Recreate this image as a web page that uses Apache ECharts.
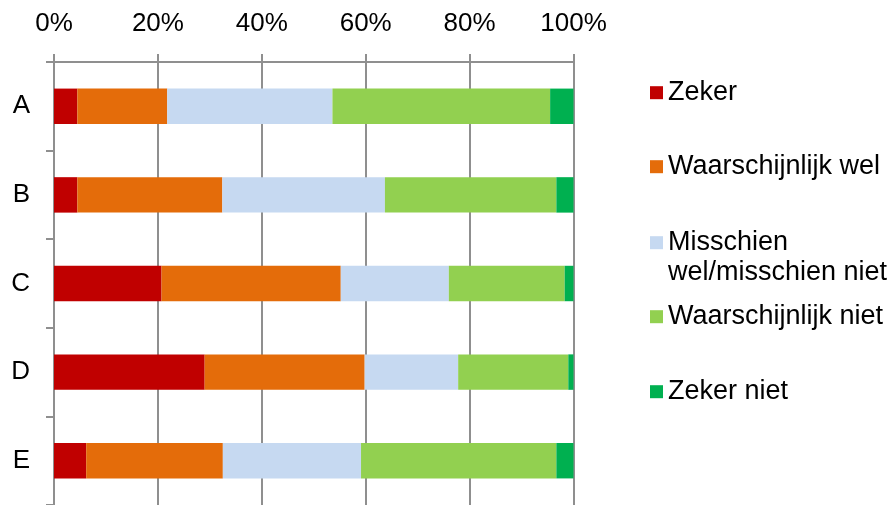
<!DOCTYPE html>
<html>
<head>
<meta charset="utf-8">
<script src="https://cdn.jsdelivr.net/npm/echarts@6/dist/echarts.min.js"></script>
<style>html,body{margin:0;padding:0;background:#fff}#c{width:889px;height:505px}</style>
</head>
<body>
<div id="c"></div>
<script>
var categories = ['A', 'B', 'C', 'D', 'E'];
var seriesNames = ['Zeker', 'Waarschijnlijk wel', 'Misschien wel/misschien niet', 'Waarschijnlijk niet', 'Zeker niet'];
var zeker = [4.5, 4.5, 20.7, 29.0, 6.2];
var waarschijnlijkWel = [17.3, 27.9, 34.5, 30.8, 26.3];
var misschien = [31.8, 31.3, 20.8, 18.0, 26.6];
var waarschijnlijkNiet = [41.9, 33.0, 22.3, 21.2, 37.6];
var zekerNiet = [4.5, 3.3, 1.7, 1.0, 3.3];
var tickLabels = ['0%', '20%', '40%', '60%', '80%', '100%'];

var colors = ['#C00000', '#E46C0A', '#C6D9F1', '#92D050', '#00B050'];
var values = [zeker, waarschijnlijkWel, misschien, waarschijnlijkNiet, zekerNiet];
var FONT = '"Liberation Sans", Arial, sans-serif';
var axisColor = '#8f8f8f';

var legendCenters = [92.7, 166.7, 242.7, 316.7, 391.7];
var legends = seriesNames.map(function (name, i) {
  var multi = (i === 2);
  return {
    data: [name],
    orient: 'vertical',
    left: 650,
    top: multi ? legendCenters[i] - 45 : legendCenters[i] - 15,
    padding: 0,
    icon: 'rect',
    itemWidth: 13,
    itemHeight: 13,
    selectedMode: false,
    formatter: multi ? function () { return ' \nMisschien\nwel/misschien niet'; } : undefined,
    textStyle: {
      fontFamily: FONT,
      fontSize: 27,
      color: '#000',
      lineHeight: 30
    }
  };
});

var series = seriesNames.map(function (name, i) {
  return {
    name: name,
    type: 'bar',
    stack: 'total',
    barWidth: '40%',
    itemStyle: { color: colors[i] },
    emphasis: { disabled: true },
    data: values[i]
  };
});

var chart = echarts.init(document.getElementById('c'), null, { renderer: 'canvas' });
chart.setOption({
  animation: false,
  backgroundColor: '#fff',
  grid: { left: 54, top: 62, width: 519.5, height: 445, containLabel: false },
  legend: legends,
  xAxis: {
    type: 'value',
    position: 'top',
    min: 0,
    max: 100,
    interval: 20,
    axisLine: { show: true, lineStyle: { color: axisColor, width: 2 } },
    axisTick: { show: true, length: 8, lineStyle: { color: axisColor, width: 2 } },
    splitLine: { show: true, lineStyle: { color: axisColor, width: 2 } },
    axisLabel: {
      margin: 25,
      fontFamily: FONT,
      fontSize: 26,
      color: '#000',
      formatter: function (v) { return tickLabels[Math.round(v / 20)]; }
    }
  },
  yAxis: {
    type: 'category',
    inverse: true,
    data: categories,
    axisLine: { show: true, lineStyle: { color: axisColor, width: 2 } },
    axisTick: { show: true, length: 8, lineStyle: { color: axisColor, width: 2 } },
    axisLabel: { margin: 24, fontFamily: FONT, fontSize: 26, color: '#000' }
  },
  series: series
});
</script>
</body>
</html>
